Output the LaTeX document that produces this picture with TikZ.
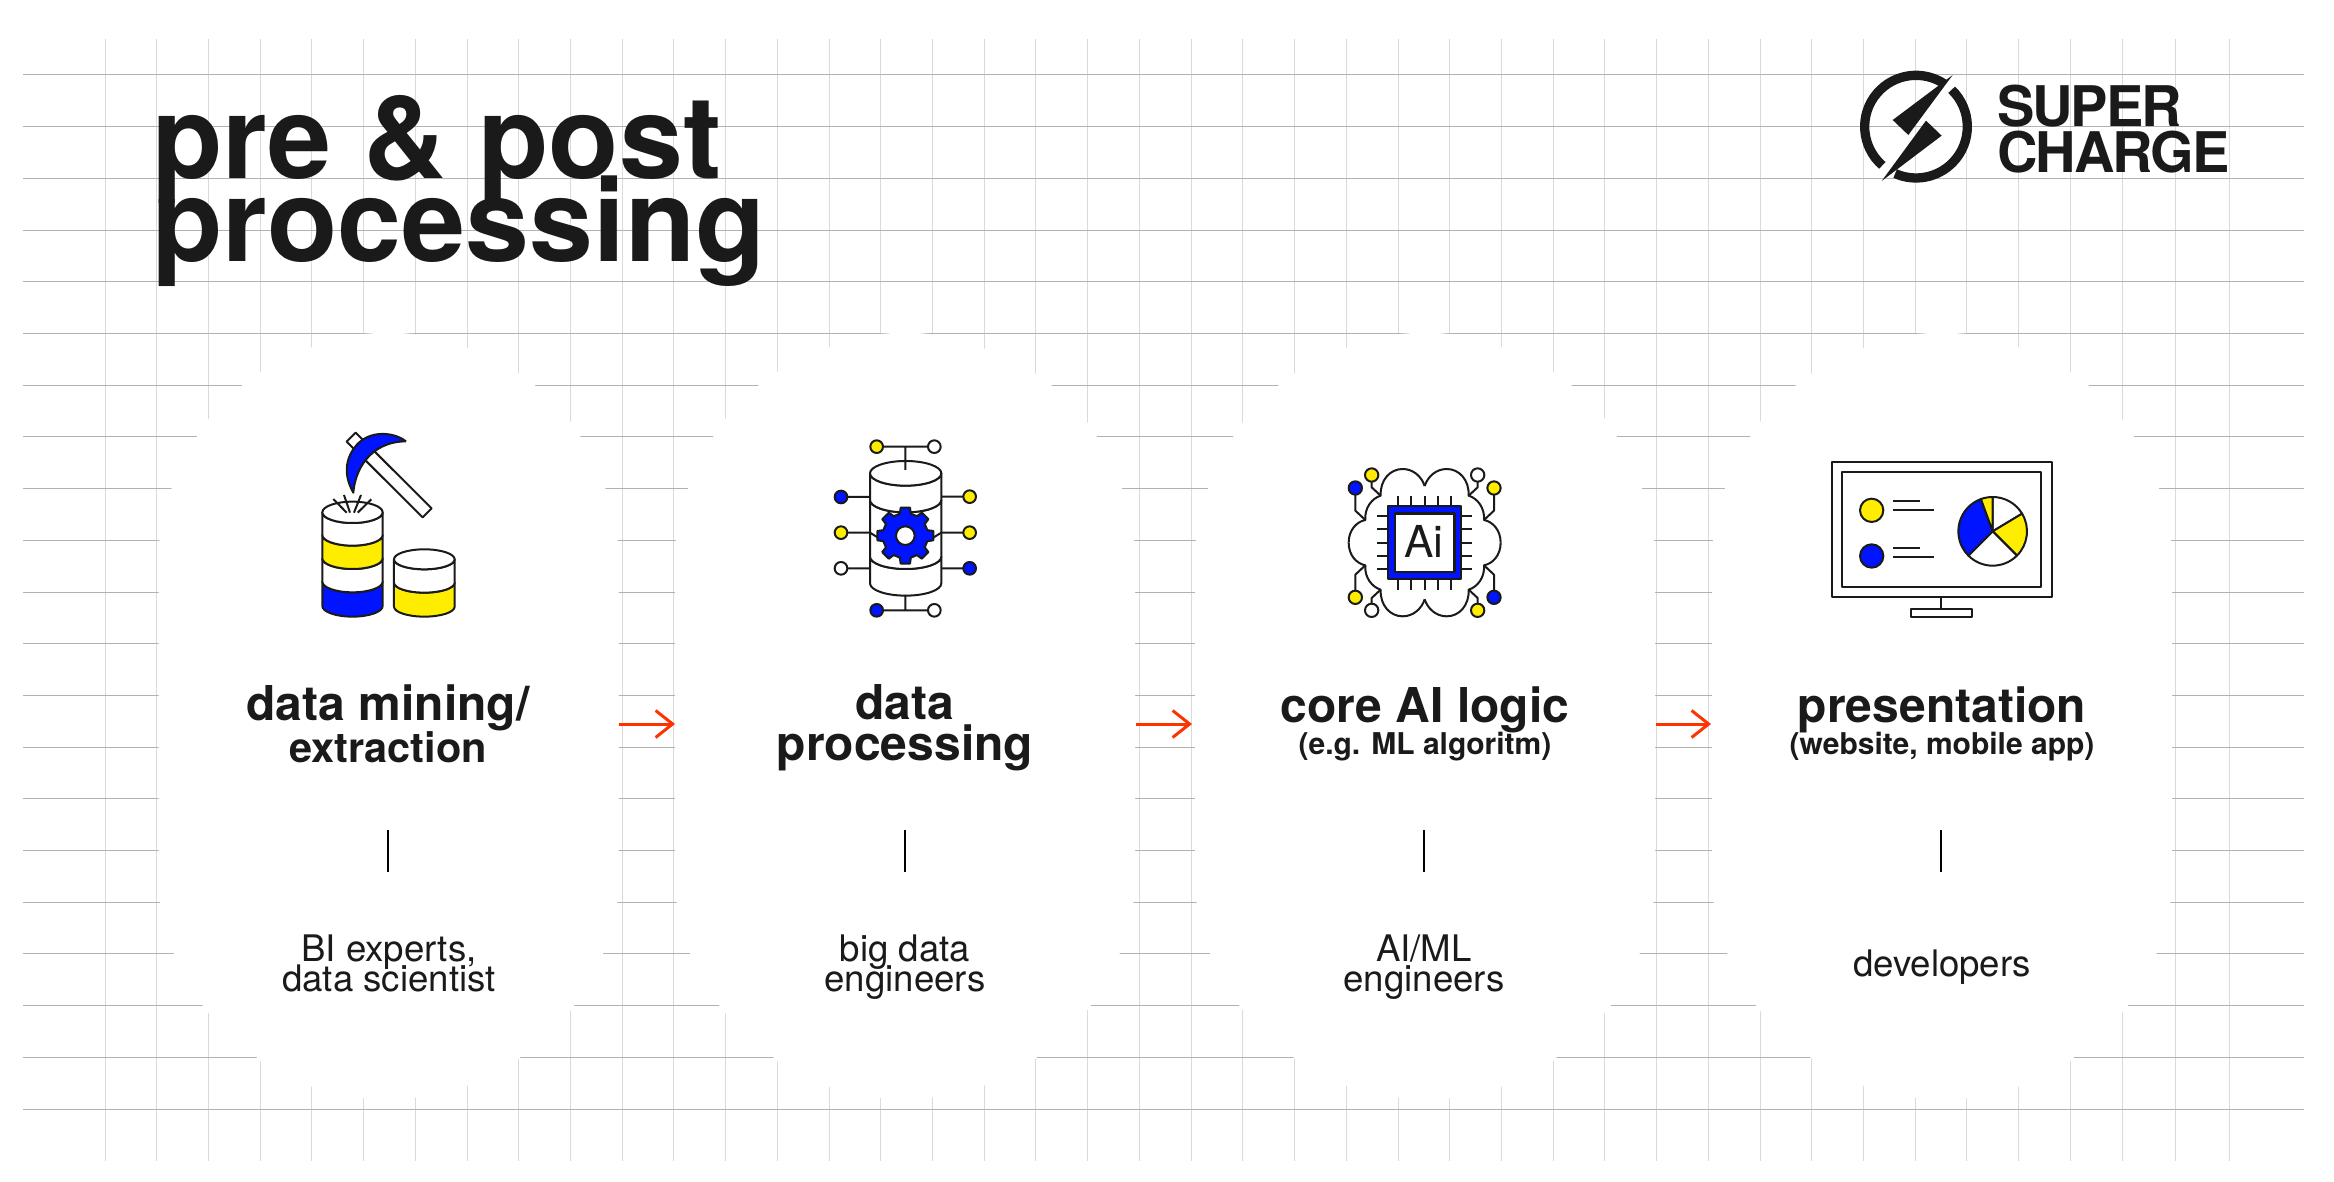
\documentclass[tikz,border=0pt]{standalone}
\usepackage{fontspec}
\setmainfont{TeX Gyre Heros}
\newfontfamily\logofont[LetterSpace=-3.7]{TeX Gyre Heros}
\usepackage{xcolor}
\usepackage{tikz}
\usetikzlibrary{arrows.meta}
\definecolor{ink}{RGB}{26,26,26}
\definecolor{iconblue}{RGB}{0,20,255}
\definecolor{iconyellow}{RGB}{255,237,0}
\definecolor{flowred}{RGB}{255,51,0}
\definecolor{gridh}{RGB}{178,178,178}
\definecolor{gridv}{RGB}{218,218,218}
\lineskiplimit=-200pt
\normallineskiplimit=-200pt
\newcommand{\drumband}[6]{\draw[icon,fill=#6] (#1,#4) arc[start angle=180,end angle=0,x radius=#2,y radius=#3] -- ++(0,#5) arc[start angle=0,end angle=180,x radius=#2,y radius=#3] -- cycle;}

\begin{document}
\begin{tikzpicture}[x=1pt, y=-1pt, every node/.style={text=ink, inner sep=0pt},
      maintitle/.style={anchor=base west, align=left, font=\fontsize{115}{84}\selectfont\bfseries},
      logotext/.style={anchor=base west, font=\logofont\fontsize{56}{56}\selectfont\bfseries},
      head/.style={anchor=base, align=center, font=\fontsize{48}{41}\selectfont\bfseries},
      subhead/.style={anchor=base, font=\fontsize{30}{30}\selectfont\bfseries},
      role/.style={anchor=base, align=center, font=\fontsize{36.6}{30}\selectfont},
      bar/.style={line width=2.5pt, black},
      arr/.style={-{Straight Barb[length=17pt, width=27pt, line width=3pt]}, line width=3pt, flowred},
      icon/.style={line width=2pt, draw=ink, line join=round},
      iconthin/.style={line width=1.7pt, draw=ink, line join=round},
      zoomed/.style={x=0.3333pt, y=-0.3333pt}]
  \useasboundingbox (0,0) rectangle (2334,1182);
  \fill[white] (0,0) rectangle (2334,1182);

  \foreach \k in {0,...,39} \draw[gridv, line width=1pt] ({105+51.72*\k},39) -- ({105+51.72*\k},1161);
  \foreach \gx in {2175,2229} \draw[gridv, line width=1pt] (\gx,39) -- (\gx,1161);
  \foreach \k in {0,...,20} \draw[gridh, line width=1pt] (23,{75+51.7*\k}) -- (2304,{75+51.7*\k});

  \foreach \c in {388.5,905,1425,1942} {
    \begin{scope}[shift={(\c,0)}]
      \fill[white] (0,332) -- (25,334) -- (76,347) -- (128,372) -- (146,385) -- (180,419) -- (192,437)
        -- (217,488.7) -- (229,540) -- (230,592) -- (230,850) -- (228.5,902) -- (214.5,954) -- (185.5,1006)
        -- (180,1013) -- (132,1057) -- (128,1061) -- (76,1087) -- (25,1098) -- (0,1100)
        -- (-25,1098) -- (-76,1087) -- (-128,1061) -- (-132,1057) -- (-180,1013) -- (-185.5,1006) -- (-214.5,954)
        -- (-228.5,902) -- (-230,850) -- (-230,592) -- (-229,540) -- (-217,488.7) -- (-192,437) -- (-180,419)
        -- (-146,385) -- (-128,372) -- (-76,347) -- (-25,334) -- cycle;
    \end{scope}
  }

  \node[maintitle] (title) at (152,262) {pre \& post\\processing};

  % logo
  \begin{scope}[shift={(1840,50)}, zoomed]
    \draw[line width=9.3pt, ink] (228,230) ++(-46:154) arc[start angle=-46, end angle=114, radius=154];
    \draw[line width=9.3pt, ink] (228,230) ++(131:154) arc[start angle=131, end angle=304, radius=154];
    \fill[ink] (338,75) -- (158,210) -- (205,255) -- cycle;
    \fill[ink] (125,393) -- (305,257) -- (258,212) -- cycle;
  \end{scope}
  \node[logotext] (logotop) at (1997,127) {SUPER};
  \node[logotext] (logobottom) at (1997,172.5) {CHARGE};

  % pick and drums
  \begin{scope}[shift={(280,400)}, zoomed]
    \draw[icon, fill=white] (200,125) -- (227,98) -- (455,325) -- (428,352) -- cycle;
    \draw[icon, fill=iconblue] (378,124) .. controls (340,95) and (270,90) .. (230,135)
      .. controls (195,175) and (190,225) .. (220,278) .. controls (225,210) and (270,125) .. (378,124);
    \drumband{127}{90.5}{32}{545}{73}{iconblue}
    \drumband{127}{90.5}{32}{475}{70}{white}
    \drumband{127}{90.5}{32}{405}{70}{iconyellow}
    \drumband{127}{90.5}{32}{337}{68}{white}
    \draw[icon, fill=white] (217.5,337) ellipse[x radius=90.5, y radius=32];
    \draw[icon] (200,338) -- (160,297) (210,338) -- (192,285) (222,338) -- (243,285) (233,338) -- (274,298);
    \drumband{342}{91}{30}{548}{72}{iconyellow}
    \drumband{342}{91}{30}{478}{70}{white}
    \draw[icon, fill=white] (433,478) ellipse[x radius=91, y radius=30];
  \end{scope}

  % database and gear
  \begin{scope}[shift={(800,420)}, zoomed]
    \drumband{210}{107}{37}{410}{80}{white}
    \drumband{210}{107}{37}{240}{170}{white}
    \drumband{210}{107}{37}{160}{80}{white}
    \draw[icon, fill=white] (317,160) ellipse[x radius=107, y radius=37];
    \draw[icon] (316,150) -- (316,80) (230,80) -- (403,80) (316,525) -- (316,571) (230,571) -- (403,571)
      (123,231) -- (210,231) (123,338) -- (210,338) -- (236,354) (123,445) -- (210,445)
      (509,230) -- (424,230) (509,338) -- (424,338) -- (398,354) (509,445) -- (424,445);
    \foreach \px/\py/\col in {230/80/iconyellow, 403/80/white, 230/571/iconblue, 403/571/white,
        123/231/iconblue, 123/338/iconyellow, 123/445/white, 509/230/iconyellow, 509/338/iconyellow, 509/445/iconblue}
      \draw[icon, fill=\col] (\px,\py) circle[radius=19];
    \begin{scope}[shift={(316,347)}]
      \draw[icon, fill=iconblue] (-14:68) \foreach \a in {0,45,...,315} { -- (\a-14:68) -- (\a-9.5:85) -- (\a+9.5:85) -- (\a+14:68) } -- cycle;
      \draw[icon, fill=white] (0,0) circle[radius=28];
    \end{scope}
  \end{scope}

  % chip in cloud
  \begin{scope}[shift={(1330,450)}, zoomed]
    \begin{scope}[shift={(284,278)}]
      \foreach \sx/\sy/\cola/\colb in {1/1/iconblue/iconyellow, -1/1/iconyellow/white, 1/-1/iconyellow/white, -1/-1/iconblue/iconyellow} {
        \draw[icon] (\sx*-228,0) .. controls (\sx*-228,\sy*-38) and (\sx*-204,\sy*-63) .. (\sx*-178,\sy*-68)
          .. controls (\sx*-181,\sy*-103) and (\sx*-159,\sy*-133) .. (\sx*-132,\sy*-141)
          .. controls (\sx*-134,\sy*-188) and (\sx*-104,\sy*-221) .. (\sx*-66,\sy*-221)
          .. controls (\sx*-34,\sy*-221) and (\sx*-9,\sy*-198) .. (0,\sy*-170);
        \draw[icon] (\sx*-208,\sy*-164) -- (\sx*-208,\sy*-96) -- (\sx*-178,\sy*-68);
        \draw[icon] (\sx*-159,\sy*-203) -- (\sx*-159,\sy*-166) -- (\sx*-132,\sy*-141);
        \draw[icon, fill=\cola] (\sx*-208,\sy*-164) circle[radius=20];
        \draw[icon, fill=\colb] (\sx*-159,\sy*-203) circle[radius=20];
      }
    \end{scope}
    \foreach \p in {204,244,284,323,363} \draw[icon] (\p,137) -- (\p,420);
    \foreach \p in {199,238,278,318,358} \draw[icon] (142,\p) -- (426,\p);
    \draw[iconthin, fill=iconblue] (174,168) rectangle (394,388);
    \draw[icon, line width=2.4pt, fill=white] (195,190) rectangle (373,366);
    \node[font=\fontsize{44}{44}\selectfont] (chiptext) at (282,275) {Ai};
  \end{scope}

  % monitor
  \begin{scope}[shift={(1820,450)}, zoomed]
    \draw[icon] (36,36) rectangle (697,441);
    \draw[icon] (67,65) rectangle (662,412);
    \draw[icon] (364,441) -- (364,478);
    \draw[icon] (272,478) rectangle (456,500);
    \draw[icon, fill=iconyellow] (155,181) circle[radius=35];
    \draw[icon, fill=iconblue] (155,318) circle[radius=35];
    \draw[icon] (220,154) -- (301,154) (220,181) -- (342,181) (220,294) -- (301,294) (220,321) -- (342,321);
    \begin{scope}[shift={(518,244)}]
      \foreach \from/\upto/\col in {-90/-31/white, -31/45/iconyellow, 45/135/white, 135/250/iconblue, 250/270/iconyellow}
        \draw[icon, fill=\col] (0,0) -- (\from:103) arc[start angle=\from, end angle=\upto, radius=103] -- cycle;
    \end{scope}
  \end{scope}

  \node[head] (head1) at (388,720) {data mining/};
  \node[head, font=\fontsize{41.5}{41}\selectfont\bfseries] (sub1) at (388,762) {extraction};
  \node[head] (head2) at (905,760) {data\\processing};
  \node[head] (head3) at (1425,722) {core AI logic};
  \node[subhead] (sub3) at (1425,754) {(e.g. ML algoritm)};
  \node[head] (head4) at (1942,722) {presentation};
  \node[subhead] (sub4) at (1942,754) {(website, mobile app)};

  \node[role] (role1) at (389,991) {BI experts,\\data scientist};
  \node[role] (role2) at (905,991) {big data\\engineers};
  \node[role] (role3) at (1424,991) {AI/ML\\engineers};
  \node[role] (role4) at (1942,976) {developers};

  \foreach \n/\bx in {1/388, 2/905, 3/1424, 4/1941} {
    \coordinate (bartop\n) at (\bx,830);
    \coordinate (barend\n) at (\bx,872);
    \draw[bar] (bartop\n) -- (barend\n);
  }
  \foreach \n/\ax/\bx in {1/619/675, 2/1136/1192, 3/1656/1711} {
    \coordinate (flowstart\n) at (\ax,724);
    \coordinate (flowend\n) at (\bx,724);
    \draw[arr] (flowstart\n) -- (flowend\n);
  }
\end{tikzpicture}
\end{document}
